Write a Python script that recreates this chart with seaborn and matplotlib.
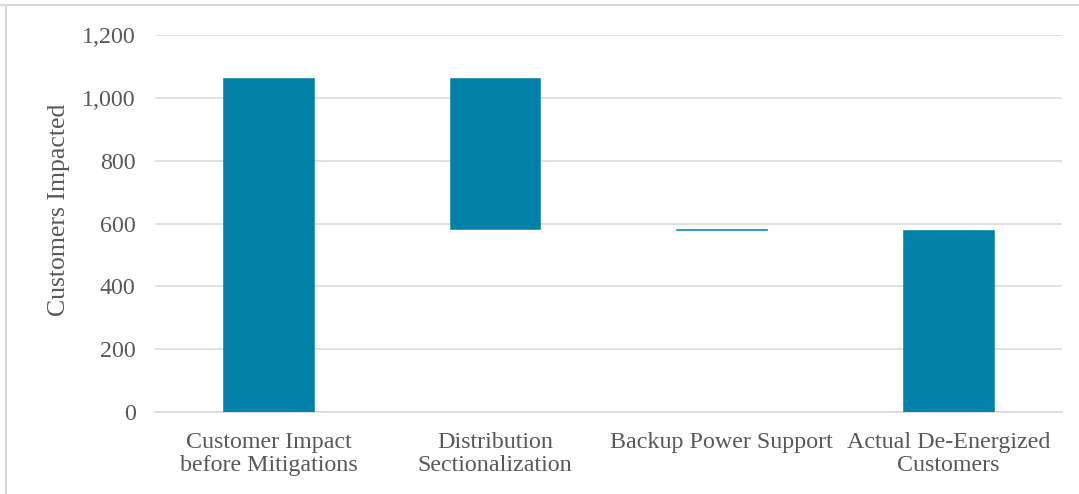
import matplotlib
matplotlib.use("Agg")
import matplotlib.pyplot as plt
from matplotlib.lines import Line2D
import numpy as np
import pandas as pd
import seaborn as sns

# waterfall steps (customers)
categories = ["Customer Impact\nbefore Mitigations", "Distribution\nSectionalization",
              "Backup Power Support", "Actual De-Energized\nCustomers"]
bar_tops = [1063, 1063, 583, 580]
bar_bottoms = [0, 583, 580, 0]
y_ticks = [0, 200, 400, 600, 800, 1000, 1200]

df = pd.DataFrame({
    "step": categories,
    "height": np.array(bar_tops) - np.array(bar_bottoms),
    "bottom": bar_bottoms,
})

sns.set_theme(style="white")
plt.rcParams["font.family"] = ["Liberation Serif", "DejaVu Serif"]

fig = plt.figure(figsize=(10.79, 4.94), dpi=100)
ax = fig.add_axes([0.1437, 0.166, 0.8403, 0.763])

sns.barplot(data=df, x="step", y="height", bottom=df["bottom"].values,
            color="#0281A8", saturation=1, width=0.40, ax=ax, zorder=3,
            edgecolor="#0281A8", linewidth=0.4)

ax.set_ylim(0, 1200)
ax.set_xlim(-0.5, 3.5)
ax.set_yticks(y_ticks)
ax.set_yticklabels([f"{v:,}" for v in y_ticks])
ax.yaxis.grid(True, color="#d9d9d9", linewidth=1.1, zorder=0)
ax.set_axisbelow(True)
for s in ax.spines.values():
    s.set_visible(False)
ax.spines["bottom"].set_visible(True)
ax.spines["bottom"].set_color("#d9d9d9")
ax.spines["bottom"].set_linewidth(1.1)

ax.tick_params(axis="y", length=0, pad=14, labelsize=17.3, labelcolor="#595959")
ax.tick_params(axis="x", length=0, pad=14.5, labelsize=17.3, labelcolor="#595959")
for lbl in ax.get_xticklabels():
    lbl.set_linespacing(1.1)

ax.set_xlabel("")
ax.set_ylabel("Customers Impacted", fontsize=18.5, color="#595959", labelpad=8)
ax.yaxis.set_label_coords(-0.094, 0.537)

# chart-area frame (top and left edges visible)
fig.add_artist(Line2D([0, 1], [1 - 5.5 / 494, 1 - 5.5 / 494], transform=fig.transFigure,
                      color="#d9d9d9", linewidth=1.5))
fig.add_artist(Line2D([6 / 1079, 6 / 1079], [0, 1 - 5.5 / 494], transform=fig.transFigure,
                      color="#d9d9d9", linewidth=1.5))

fig.savefig("out.png", dpi=100, facecolor="white")
